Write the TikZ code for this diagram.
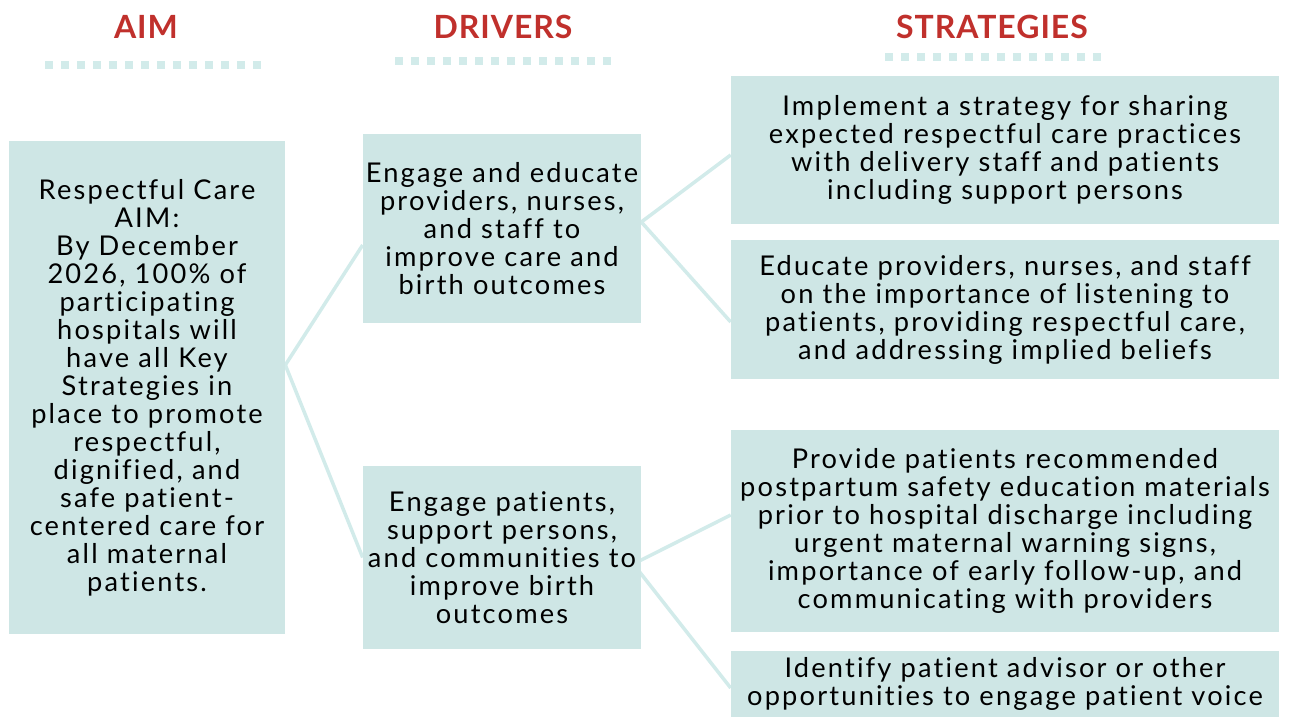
\documentclass[tikz,border=0pt]{standalone}
\usepackage{fontspec}
\setmainfont{Lato}
\newfontfamily\boxfont[LetterSpace=8,Ligatures=NoCommon]{Lato}
\newfontfamily\headfont[LetterSpace=3]{Lato}
\usetikzlibrary{backgrounds}
\definecolor{boxfill}{RGB}{206,230,229}
\definecolor{linkcol}{RGB}{210,235,234}
\definecolor{headred}{RGB}{192,48,44}

\begin{document}
\begin{tikzpicture}[x=0.02cm,y=-0.02cm,
  box/.style={fill=boxfill,inner sep=0pt,align=center,font=\boxfont\fontsize{15.5}{15.95}\selectfont},
  head/.style={text=headred,font=\headfont\fontsize{18.2}{20}\selectfont\bfseries},
  rule/.style={draw=linkcol,line width=0.16cm,dash pattern=on 0.16cm off 0.16cm},
  link/.style={draw=linkcol,line width=2pt}]
  \useasboundingbox (0,0) rectangle (1291,717); %Page size

  \node[head] (aimhead) at (146,27) {AIM};          %Column title 1
  \node[head] (drvhead) at (503,27) {DRIVERS};      %Column title 2
  \node[head] (strhead) at (992,27) {STRATEGIES};   %Column title 3
  \draw[rule] (45,65) -- (261,65);   %Dotted rule under AIM
  \draw[rule] (395,61) -- (611,61);  %Dotted rule under DRIVERS
  \draw[rule] (885,57) -- (1101,57); %Dotted rule under STRATEGIES

  \node[box,minimum width=5.52cm,minimum height=9.86cm] (aim) at (147,387.5)
    {Respectful Care\\AIM:\\By December\\2026, 100\% of\\participating\\hospitals will\\have all Key\\Strategies in\\place to promote\\respectful,\\dignified, and\\safe patient-\\centered care for\\all maternal\\patients.}; %Aim box

  \node[box,minimum width=5.56cm,minimum height=3.78cm] (drv1) at (502,228.5)
    {Engage and educate\\providers, nurses,\\and staff to\\improve care and\\birth outcomes}; %Driver 1
  \node[box,minimum width=5.56cm,minimum height=3.66cm] (drv2) at (502,557.5)
    {Engage patients,\\support persons,\\and communities to\\improve birth\\outcomes}; %Driver 2

  \node[box,minimum width=10.96cm,minimum height=2.96cm] (str1) at (1005,150)
    {Implement a strategy for sharing\\expected respectful care practices\\with delivery staff and patients\\including support persons}; %Strategy 1
  \node[box,minimum width=10.96cm,minimum height=2.78cm] (str2) at (1005,309.5)
    {Educate providers, nurses, and staff\\on the importance of listening to\\patients, providing respectful care,\\and addressing implied beliefs}; %Strategy 2
  \node[box,minimum width=10.96cm,minimum height=4.04cm] (str3) at (1005,531)
    {Provide patients recommended\\postpartum safety education materials\\prior to hospital discharge including\\urgent maternal warning signs,\\importance of early follow-up, and\\communicating with providers}; %Strategy 3
  \node[box,minimum width=10.96cm,minimum height=1.32cm] (str4) at (1005,684)
    {Identify patient advisor or other\\opportunities to engage patient voice}; %Strategy 4

  \begin{scope}[on background layer]
    \draw[link] ([yshift=0.45cm]aim.east) -- ([yshift=-0.33cm]drv1.west); %Aim to driver 1
    \draw[link] ([yshift=0.45cm]aim.east) -- (drv2.west);                 %Aim to driver 2
    \draw[link] ([yshift=0.13cm]drv1.east) -- ([yshift=-0.1cm]str1.west); %Driver 1 to strategy 1
    \draw[link] ([yshift=0.13cm]drv1.east) -- ([yshift=-0.25cm]str2.west);%Driver 1 to strategy 2
    \draw[link] ([xshift=-0.16cm,yshift=-0.13cm]drv2.east) -- ([yshift=0.32cm]str3.west);  %Driver 2 to strategy 3
    \draw[link] ([xshift=-0.16cm,yshift=-0.13cm]drv2.east) -- ([yshift=-0.08cm]str4.west); %Driver 2 to strategy 4
  \end{scope}
\end{tikzpicture}
\end{document}
